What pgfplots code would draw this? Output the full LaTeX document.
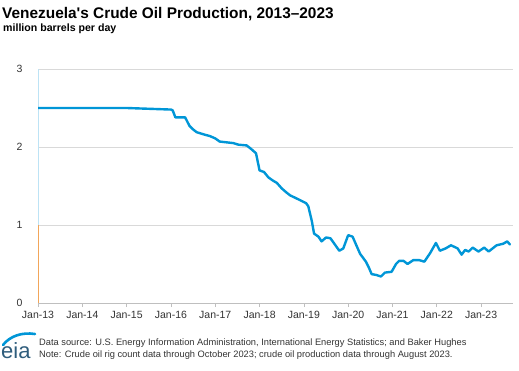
\documentclass[border=0pt]{standalone}
\usepackage{pgfplots}
\pgfplotsset{compat=1.18}
\usepackage{fontspec}
\setmainfont{Liberation Sans}[Ligatures=TeXOff]
\definecolor{eiablue}{HTML}{0096D7}
\definecolor{gridgray}{HTML}{D9D9D9}
\definecolor{axgray}{HTML}{BFBFBF}
\definecolor{lightax}{HTML}{BDE3F5}
\definecolor{rigorange}{HTML}{F2A65A}
\definecolor{txtgray}{HTML}{333333}
\definecolor{logogray}{HTML}{2F5D7C}
\begin{document}
\begin{tikzpicture}[x=1pt,y=1pt]
\path (0,0) rectangle (519,370);
\node[anchor=base west, inner sep=0pt] at (2,351) {\fontsize{15.4}{18}\selectfont\bfseries Venezuela's Crude Oil Production, 2013–2023};
\node[anchor=base west, inner sep=0pt] at (3,338) {\fontsize{10.6}{12}\selectfont\bfseries million barrels per day};
\begin{axis}[
  at={(38pt,67pt)}, anchor=south west,
  scale only axis, width=475pt, height=234pt,
  xmin=2013, xmax=2023.72, ymin=0, ymax=3,
  ytick={0,1,2,3},
  xtick={2013,2014,2015,2016,2017,2018,2019,2020,2021,2022,2023},
  xticklabels={Jan-13,Jan-14,Jan-15,Jan-16,Jan-17,Jan-18,Jan-19,Jan-20,Jan-21,Jan-22,Jan-23},
  axis x line*=bottom, axis y line*=left,
  x axis line style={draw=axgray, -},
  y axis line style={draw=lightax, -},
  ymajorgrids, grid style={draw=gridgray, line width=0.8pt},
  tick align=outside,
  xtick style={draw=axgray, line width=0.6pt},
  ytick style={draw=none},
  major tick length=4pt,
  /pgf/number format/assume math mode=true,
  tick label style={font=\fontsize{10.5}{12}\selectfont, text=txtgray},
  yticklabel style={xshift=-8pt},
  xticklabel style={yshift=-1pt},
]
\addplot[rigorange, line width=1pt] coordinates {(2013,0) (2013,1)};
\addplot[eiablue, line width=2.4pt, line join=round, line cap=round] table {
x y
2013.00 2.50
2014.00 2.50
2015.00 2.50
2015.50 2.49
2016.00 2.48
2016.04 2.47
2016.10 2.38
2016.32 2.38
2016.42 2.27
2016.49 2.23
2016.58 2.19
2016.75 2.16
2016.88 2.14
2017.00 2.11
2017.10 2.07
2017.25 2.06
2017.41 2.05
2017.52 2.03
2017.71 2.02
2017.82 1.97
2017.92 1.92
2018.00 1.70
2018.10 1.68
2018.20 1.61
2018.30 1.57
2018.39 1.54
2018.50 1.47
2018.60 1.42
2018.69 1.38
2018.80 1.35
2018.91 1.32
2019.05 1.28
2019.10 1.24
2019.18 1.05
2019.23 0.89
2019.33 0.85
2019.40 0.79
2019.50 0.84
2019.60 0.83
2019.70 0.75
2019.80 0.67
2019.89 0.70
2020.00 0.87
2020.10 0.85
2020.20 0.72
2020.27 0.63
2020.40 0.53
2020.47 0.45
2020.53 0.37
2020.63 0.36
2020.74 0.34
2020.83 0.39
2020.98 0.40
2021.08 0.50
2021.15 0.54
2021.25 0.54
2021.34 0.50
2021.47 0.55
2021.60 0.55
2021.72 0.53
2021.85 0.64
2021.98 0.77
2022.07 0.67
2022.20 0.70
2022.32 0.74
2022.47 0.70
2022.56 0.62
2022.64 0.68
2022.72 0.66
2022.81 0.71
2022.94 0.66
2023.07 0.71
2023.17 0.66
2023.35 0.74
2023.50 0.76
2023.59 0.79
2023.65 0.75
};
\end{axis}
\draw[eiablue, line width=2.6pt, line cap=round] (3,25) .. controls (10,34) and (22,38) .. (35,36);
\node[anchor=base west, inner sep=0pt] at (1,12) {\fontsize{22}{22}\selectfont\color{logogray}eia};
\node[anchor=north west, inner sep=0pt, align=left, font=\fontsize{9.3}{11.8}\selectfont, text=txtgray] at (39,31) {Data source: U.S. Energy Information Administration, International Energy Statistics; and Baker Hughes\\Note: Crude oil rig count data through October 2023; crude oil production data through August 2023.};
\end{tikzpicture}
\end{document}
